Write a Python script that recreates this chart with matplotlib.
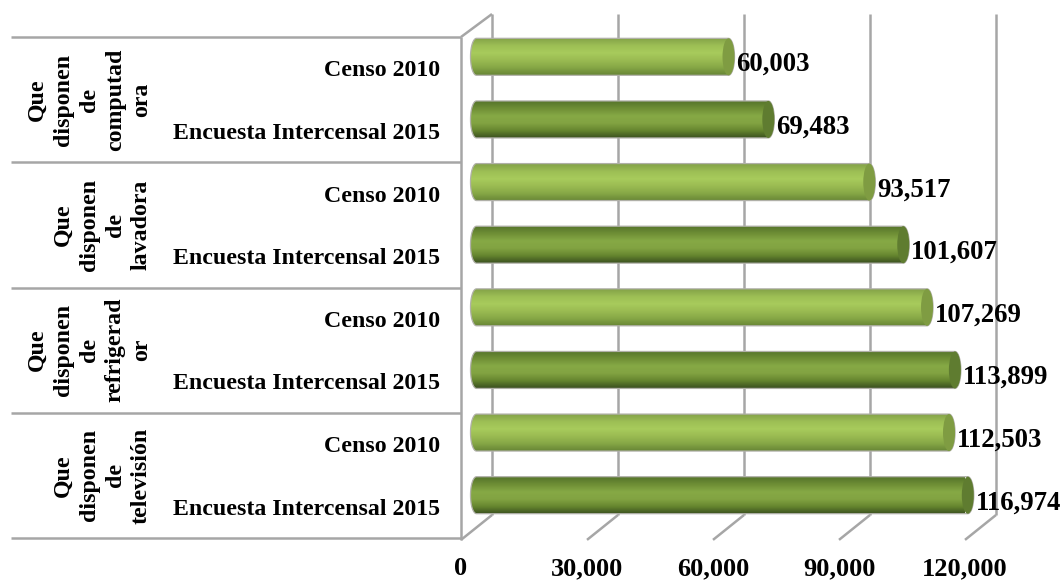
import numpy as np
import matplotlib
matplotlib.use("Agg")
import matplotlib.pyplot as plt
from matplotlib.colors import LinearSegmentedColormap
from matplotlib.patches import Polygon, Ellipse

plt.rcParams['font.family'] = ['Liberation Serif', 'DejaVu Serif']
plt.rcParams['font.weight'] = 'bold'

groups = ["Que\ndisponen\nde\ncomputad\nora", "Que\ndisponen\nde\nlavadora",
          "Que\ndisponen\nde\nrefrigerad\nor", "Que\ndisponen\nde\ntelevisión"]
series = ["Censo 2010", "Encuesta Intercensal 2015"]
censo = [60003, 93517, 107269, 112503]
encuesta = [69483, 101607, 113899, 116974]
xticks = [0, 30000, 60000, 90000, 120000]

W, H = 1064, 581
GRID = "#a6a6a6"
XMAX = 120000
px_x = XMAX / 504.0      # value units per pixel
px_y = 1 / 62.65         # slot units per pixel
DX = 31 * px_x           # depth of the 3d box
DY = 23 * px_y
cap_w = 6 * px_x
bar_h = 18.5 * px_y

light = LinearSegmentedColormap.from_list("light", ["#84a348", "#9dbf55", "#a8cb5c", "#9abb52", "#86a746", "#688636"])
dark = LinearSegmentedColormap.from_list("dark", ["#56752b", "#6f8f36", "#86a945", "#82a342", "#66862f", "#3c5220"])

fig = plt.figure(figsize=(W / 100, H / 100), dpi=100)
ax = fig.add_axes([461 / W, 1 - 538 / H, 504 / W, 501 / H])
for s in ax.spines.values():
    s.set_visible(False)


def line(xs, ys):
    ax.plot(xs, ys, color=GRID, lw=1.8, clip_on=False, zorder=1, solid_capstyle="butt")


# box: back wall lines, floor diagonals
for v in xticks:
    line([v + DX, v + DX], [-0.5 - DY, 7.5 - DY])
    line([v, v + DX], [7.5 + 0.03, 7.5 - DY])
line([0, DX], [-0.5, -0.5 - DY])
line([0, 0], [-0.5, 7.5 + 0.03])

# separators between the groups
left = -450 * px_x
for k in range(5):
    line([left, 0], [2 * k - 0.5, 2 * k - 0.5])


def bar(y, v, cmap, cap):
    t = np.linspace(-np.pi / 2, np.pi / 2, 40)
    x0, x1 = DX / 2, v + DX / 2
    yc = y - DY / 2
    xs = np.r_[x1 + cap_w * np.cos(t), x0 - cap_w * np.cos(t[::-1])]
    ys = np.r_[yc + bar_h * np.sin(t), yc + bar_h * np.sin(t[::-1])]
    outline = Polygon(np.c_[xs, ys], closed=True, fc="none", ec="#b0b0a8", lw=0.9, zorder=3, clip_on=False)
    ax.add_patch(outline)
    grad = np.linspace(0, 1, 64).reshape(-1, 1)
    im = ax.imshow(grad, cmap=cmap, aspect="auto", zorder=2, interpolation="bilinear",
                   extent=[x0 - cap_w, x1 + cap_w, yc + bar_h, yc - bar_h])
    im.set_clip_path(outline)
    ax.add_patch(Ellipse((x1, yc), 2 * cap_w, 2 * bar_h, fc=cap, ec="none", zorder=4, clip_on=False))
    ax.annotate(f"{v:,}", (x1 + cap_w, yc), xytext=(1.5, -5.5), textcoords="offset points",
                fontsize=19.3, fontweight="bold", color="black", ha="left", va="center",
                zorder=6, annotation_clip=False)


for g in range(4):
    bar(2 * g, censo[g], light, "#7f9c42")
    bar(2 * g + 1, encuesta[g], dark, "#5f7c30")
    ax.text(-309 * px_x, 2 * g + 0.5, groups[g], rotation=90, ha="right", va="center",
            multialignment="center", fontsize=17.2, fontweight="bold", linespacing=1.32, clip_on=False)

ax.set_xlim(0, XMAX)
ax.set_ylim(7.5, -0.5)
ax.set_xticks(xticks, [f"{v:,}" for v in xticks], fontsize=19, fontweight="bold")
ax.set_yticks(range(8), series * 4, fontsize=17.2, fontweight="bold")
ax.tick_params(axis="x", length=0, pad=14)
ax.tick_params(axis="y", length=0, pad=15)

fig.savefig("out.png", dpi=100)
